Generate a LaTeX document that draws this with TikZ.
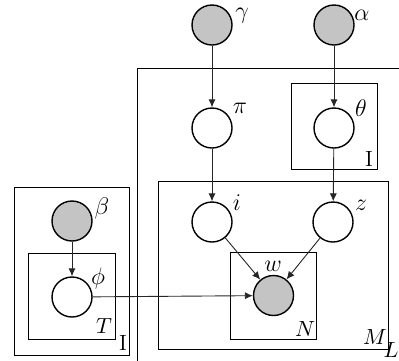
\documentclass[tikz,border=0pt]{standalone}
\usetikzlibrary{arrows.meta}
\begin{document}
\begin{tikzpicture}[x=0.5pt,y=-0.5pt,
  var/.style={circle,draw=black,line width=0.7pt,minimum size=20pt,inner sep=0pt},
  obs/.style={var,fill=obsgray},
  plate/.style={draw=black,line width=0.5pt},
  edge/.style={draw=black!85,line width=0.45pt,-{Latex[length=4pt,width=3.6pt]}},
  lbl/.style={inner sep=0pt,font=\fontsize{12}{14}\selectfont},
  slbl/.style={inner sep=0pt,font=\fontsize{11}{13}\selectfont},
]
\definecolor{obsgray}{HTML}{C4C4C4}
\useasboundingbox (0,0) rectangle (399,360);
\begin{scope}
\clip (0,0) rectangle (399,360);
% outer plate L
\draw[plate] (137,68) rectangle (420,380);
\end{scope}
% plates
\node[plate,minimum width=43pt,minimum height=43pt,inner sep=0pt] (pth) at (334,126) {};
\node[plate,minimum width=115pt,minimum height=84pt,inner sep=0pt] (pM) at (273,265) {};
\node[plate,minimum width=43pt,minimum height=43.5pt,inner sep=0pt] (pN) at (273,295.5) {};
\node[plate,minimum width=57.5pt,minimum height=84pt,inner sep=0pt] (pI) at (71.5,271) {};
\node[plate,minimum width=43.5pt,minimum height=43pt,inner sep=0pt] (pT) at (71.5,296) {};
% variables
\node[obs] (gamma) at (212,25) {};
\node[obs] (alpha) at (334,25) {};
\node[var] (pi) at (212,128) {};
\node[var] (theta) at (334,128) {};
\node[var] (i) at (212,222) {};
\node[var] (z) at (333,222) {};
\node[obs] (w) at (273.5,295.5) {};
\node[obs] (beta) at (72,221) {};
\node[var] (phi) at (72,297) {};
% labels
\node[lbl] at (242,16) {$\gamma$};
\node[lbl] at (362,15) {$\alpha$};
\node[lbl] at (240,108) {$\pi$};
\node[lbl] at (361,108) {$\theta$};
\node[lbl] at (237,203) {$i$};
\node[lbl] at (361,205) {$z$};
\node[lbl] at (273,266) {$w$};
\node[lbl] at (102,208) {$\beta$};
\node[lbl] at (98,278) {$\phi$};
\node[slbl] at (369,159) {I};
\node[slbl] at (305,329) {$N$};
\node[slbl] at (375,337) {$M$};
\node[slbl] at (391,350) {$L$};
\node[slbl] at (104,326) {$T$};
\node[slbl] at (123,343) {I};
% edges
\draw[edge] (gamma) -- (pi);
\draw[edge] (alpha) -- (theta);
\draw[edge] (pi) -- (i);
\draw[edge] (theta) -- (z);
\draw[edge] (i) -- (w);
\draw[edge] (z) -- (w);
\draw[edge] (beta) -- (phi);
\draw[edge] (phi) -- (w);
\end{tikzpicture}
\end{document}
